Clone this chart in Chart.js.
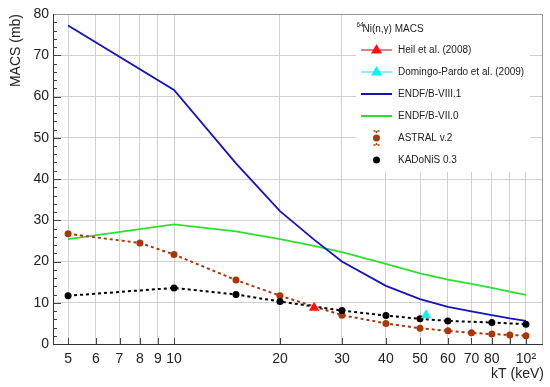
<!DOCTYPE html>
<html>
<head>
<meta charset="utf-8">
<script src="https://cdn.jsdelivr.net/npm/chart.js@4/dist/chart.umd.min.js"></script>
<style>
  html, body { margin: 0; padding: 0; background: #fff; }
  #wrap { width: 550px; height: 387px; }
</style>
</head>
<body>
<div id="wrap"><canvas id="macs" width="550" height="387"></canvas></div>
<script>
// Data (kT in keV, MACS in mb)
const endfKT = [5, 10, 15, 20, 25, 30, 40, 50, 60, 70, 80, 90, 100];
const endf81 = [77.2, 61.6, 43.8, 32.2, 25.3, 20.0, 14.1, 10.9, 9.0, 7.9, 7.0, 6.2, 5.6];
const endf70 = [25.4, 29.0, 27.3, 25.4, 23.8, 22.3, 19.4, 17.1, 15.6, 14.6, 13.6, 12.7, 11.9];
const astralKT = [5, 8, 10, 15, 20, 30, 40, 50, 60, 70, 80, 90, 100];
const astral = [26.7, 24.5, 21.7, 15.5, 11.7, 7.0, 5.0, 3.8, 3.2, 2.7, 2.4, 2.2, 2.0];
const kadKT = [5, 10, 15, 20, 30, 40, 50, 60, 80, 100];
const kadonis = [11.7, 13.6, 12.0, 10.3, 8.1, 6.9, 6.1, 5.6, 5.2, 4.8];
const heilKT = [25];
const heil = [8.8];
const dpKT = [52];
const domingo = [7.0];

const xTicks = [5, 6, 7, 8, 9, 10, 20, 30, 40, 50, 60, 70, 80, 90, 100];
const xLabels = ["5", "6", "7", "8", "9", "10", "20", "30", "40", "50", "60", "70", "80", "", "10²"];

const FONT = "'Liberation Sans', Arial, Helvetica, sans-serif";

function pts(xs, ys) {
  return xs.map((x, i) => ({ x: x, y: ys[i] }));
}

const C_BLUE = "#1414b8";
const C_GREEN = "#2ee02e";
const C_BROWN = "#a8380c";
const C_RED = "#ff1010";
const C_CYAN = "#10f0f0";

// white legend box, inward ticks and frame
const decor = {
  id: "decor",
  beforeDatasetsDraw(chart) {
    const ctx = chart.ctx;
    const a = chart.chartArea;
    const y = chart.scales.y;
    const x = chart.scales.x;
    ctx.save();
    ctx.fillStyle = "#fff";
    ctx.fillRect(356, a.top, 174, 172 - a.top);
    ctx.strokeStyle = "#444";
    ctx.lineWidth = 1;
    ctx.beginPath();
    for (let v = 0; v <= 80; v += 2) {
      const py = Math.round(y.getPixelForValue(v)) + 0.5;
      const len = v % 10 === 0 ? 8 : 4;
      ctx.moveTo(a.left, py);
      ctx.lineTo(a.left + len, py);
    }
    xTicks.forEach(function (v) {
      const px = Math.round(x.getPixelForValue(v)) + 0.5;
      ctx.moveTo(px, a.bottom);
      ctx.lineTo(px, a.bottom - 6);
    });
    ctx.stroke();
    ctx.restore();
  },
  afterDatasetsDraw(chart) {
    const ctx = chart.ctx;
    const a = chart.chartArea;
    ctx.save();
    ctx.lineWidth = 1;
    ctx.strokeStyle = "#999";
    ctx.beginPath();
    ctx.moveTo(a.left, a.top + 0.5);
    ctx.lineTo(a.right - 0.5, a.top + 0.5);
    ctx.lineTo(a.right - 0.5, a.bottom);
    ctx.stroke();
    ctx.strokeStyle = "#333";
    ctx.beginPath();
    ctx.moveTo(a.left + 0.5, a.top);
    ctx.lineTo(a.left + 0.5, a.bottom + 0.5);
    ctx.lineTo(a.right, a.bottom + 0.5);
    ctx.stroke();

    // axis titles
    ctx.fillStyle = "#222";
    ctx.font = "14px " + FONT;
    ctx.textAlign = "right";
    ctx.textBaseline = "middle";
    ctx.fillText("kT (keV)", 544, 374);
    ctx.save();
    ctx.translate(16, 14);
    ctx.rotate(-Math.PI / 2);
    ctx.textAlign = "right";
    ctx.fillText("MACS (mb)", 0, 0);
    ctx.restore();

    // legend
    ctx.textAlign = "left";
    ctx.font = "6.5px " + FONT;
    ctx.fillText("64", 356.5, 25);
    ctx.font = "10px " + FONT;
    ctx.fillText("Ni(n,\u03b3) MACS", 362.5, 29);

    const x0 = 361, x1 = 392, xm = 376.5, tx = 398;
    const rows = [50, 72, 94, 116, 138, 160];
    function tri(cx, cy, col) {
      ctx.fillStyle = col;
      ctx.beginPath();
      ctx.moveTo(cx, cy - 6);
      ctx.lineTo(cx + 5.5, cy + 3.5);
      ctx.lineTo(cx - 5.5, cy + 3.5);
      ctx.closePath();
      ctx.fill();
    }
    function seg(cy, col, w) {
      ctx.strokeStyle = col;
      ctx.lineWidth = w;
      ctx.beginPath();
      ctx.moveTo(x0, cy);
      ctx.lineTo(x1, cy);
      ctx.stroke();
    }
    seg(rows[0], "#e85050", 1.5);
    tri(xm, rows[0], C_RED);
    seg(rows[1], "#60e8e8", 1.5);
    tri(xm, rows[1], C_CYAN);
    seg(rows[2], C_BLUE, 2);
    seg(rows[3], C_GREEN, 2);
    // astral: dot with dotted error bar
    ctx.strokeStyle = C_BROWN;
    ctx.lineWidth = 1.5;
    ctx.setLineDash([2, 2]);
    ctx.beginPath();
    ctx.moveTo(xm, rows[4] - 7);
    ctx.lineTo(xm, rows[4] + 7);
    ctx.moveTo(xm - 3, rows[4] - 7);
    ctx.lineTo(xm + 3, rows[4] - 7);
    ctx.moveTo(xm - 3, rows[4] + 7);
    ctx.lineTo(xm + 3, rows[4] + 7);
    ctx.stroke();
    ctx.setLineDash([]);
    ctx.fillStyle = C_BROWN;
    ctx.beginPath();
    ctx.arc(xm, rows[4], 3.5, 0, Math.PI * 2);
    ctx.fill();
    ctx.fillStyle = "#000";
    ctx.beginPath();
    ctx.arc(xm, rows[5], 3.5, 0, Math.PI * 2);
    ctx.fill();

    const names = ["Heil et al. (2008)", "Domingo-Pardo et al. (2009)", "ENDF/B-VIII.1",
      "ENDF/B-VII.0", "ASTRAL v.2", "KADoNiS 0.3"];
    ctx.fillStyle = "#222";
    ctx.font = "10px " + FONT;
    names.forEach(function (n, i) {
      ctx.fillText(n, tx, rows[i]);
    });
    ctx.restore();
  }
};

const ctx = document.getElementById("macs").getContext("2d");
new Chart(ctx, {
  type: "line",
  data: {
    datasets: [
      {
        label: "Heil et al. (2008)",
        data: pts(heilKT, heil),
        showLine: false,
        pointStyle: "triangle",
        pointRadius: 6,
        backgroundColor: C_RED,
        borderColor: C_RED,
        borderWidth: 0,
        order: 0,
      },
      {
        label: "Domingo-Pardo et al. (2009)",
        data: pts(dpKT, domingo),
        showLine: false,
        pointStyle: "triangle",
        pointRadius: 6,
        backgroundColor: C_CYAN,
        borderColor: C_CYAN,
        borderWidth: 0,
        order: 1,
      },
      {
        label: "ENDF/B-VIII.1",
        data: pts(endfKT, endf81),
        borderColor: C_BLUE,
        borderWidth: 1.8,
        pointRadius: 0,
        order: 4,
      },
      {
        label: "ENDF/B-VII.0",
        data: pts(endfKT, endf70),
        borderColor: C_GREEN,
        borderWidth: 1.8,
        pointRadius: 0,
        order: 5,
      },
      {
        label: "ASTRAL v.2",
        data: pts(astralKT, astral),
        borderColor: C_BROWN,
        backgroundColor: C_BROWN,
        borderWidth: 2,
        borderDash: [3, 3],
        pointRadius: 3.5,
        pointBorderWidth: 0,
        order: 3,
      },
      {
        label: "KADoNiS 0.3",
        data: pts(kadKT, kadonis),
        borderColor: "#000",
        backgroundColor: "#000",
        borderWidth: 2,
        borderDash: [3, 3],
        pointRadius: 3.5,
        pointBorderWidth: 0,
        order: 2,
      },
    ],
  },
  options: {
    responsive: false,
    animation: false,
    layout: { padding: { top: 14, right: 7, left: 0, bottom: 0 } },
    plugins: {
      legend: { display: false },
      tooltip: { enabled: false },
    },
    scales: {
      x: {
        type: "logarithmic",
        min: 4.53,
        max: 111.8,
        afterBuildTicks: function (scale) {
          scale.ticks = xTicks.map((v) => ({ value: v }));
        },
        afterFit: function (scale) {
          scale.height = 43;
        },
        ticks: {
          autoSkip: false,
          maxRotation: 0,
          padding: 7,
          color: "#222",
          font: { family: FONT, size: 14 },
          callback: function (value) {
            const i = xTicks.indexOf(value);
            return i >= 0 ? xLabels[i] : "";
          },
        },
        grid: { color: "#d0d0d0", drawTicks: false },
        border: { display: false },
      },
      y: {
        min: 0,
        max: 80,
        afterFit: function (scale) {
          scale.width = 53;
        },
        ticks: {
          stepSize: 10,
          padding: 4,
          color: "#222",
          font: { family: FONT, size: 14 },
        },
        grid: { color: "#d0d0d0", drawTicks: false },
        border: { display: false },
      },
    },
  },
  plugins: [decor],
});
</script>
</body>
</html>
